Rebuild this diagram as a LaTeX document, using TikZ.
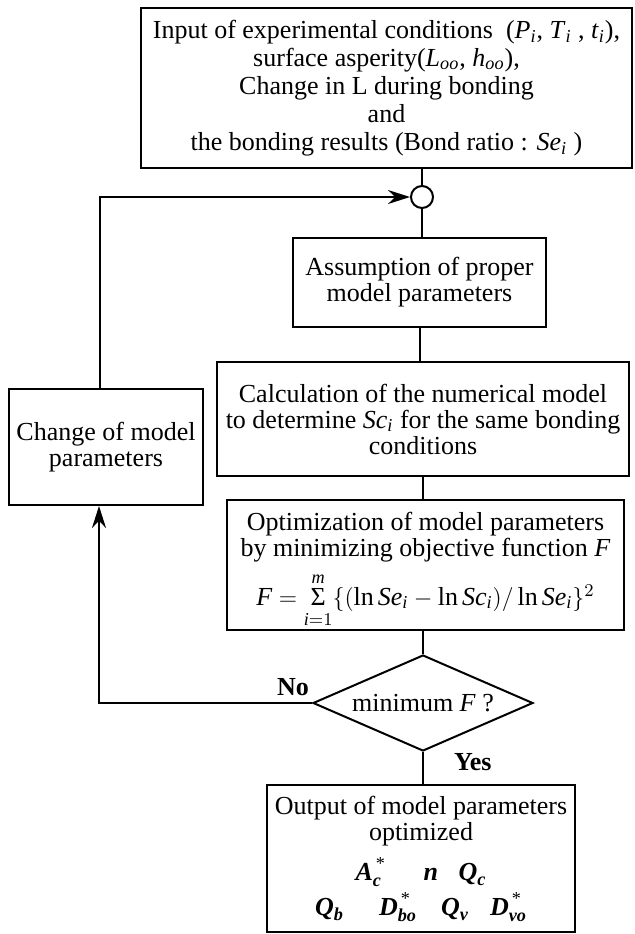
\documentclass[tikz,border=0pt]{standalone}
\usepackage{amsmath}
\usepackage{fontspec}
\setmainfont{Liberation Serif}
\usetikzlibrary{shapes.geometric,arrows.meta}
\newcommand{\ivar}[2]{\textit{#1}\textsubscript{\textit{#2}}}
\newcommand{\bit}[1]{\text{\bfseries\itshape #1}}
\begin{document}
\begin{tikzpicture}[x=0.5pt,y=-0.5pt]
\tikzset{
base/.style={draw,line width=1pt,align=center,inner sep=0pt,font=\fontsize{13}{13}\selectfont},
box/.style={base},
test/.style={base,diamond,aspect=2.27},
lbl/.style={font=\fontsize{13}{13}\selectfont\bfseries,inner sep=0pt},
every path/.style={>={Stealth[length=11pt,width=7pt]},line width=1pt}}
\useasboundingbox (0,0) rectangle (634,934);
\node[box,line width=1.3pt,minimum width=245.5pt,minimum height=80pt,font=\fontsize{13}{14}\selectfont] at (386.5,88) (input)
 {Input of experimental conditions~ (\ivar{P}{i}, \ivar{T}{i} , \ivar{t}{i}),\\
  surface asperity(\ivar{L}{oo}, \ivar{h}{oo}),\\
  Change in L during bonding\\
  and\\
  the bonding results (Bond ratio : \ivar{Se}{i} )};
\node[draw,circle,minimum size=11pt,inner sep=0pt] at (422,197) (circ) {};
\node[box,minimum width=126.5pt,minimum height=44.5pt] at (419.5,282.5) (assume)
 {Assumption of proper\\ model parameters};
\node[box,minimum width=206pt,minimum height=57pt] at (423,419) (calc)
 {Calculation of the numerical model\\ to determine \ivar{Sc}{i} for the same bonding\\ conditions};
\node[box,minimum width=97pt,minimum height=58pt] at (106,447) (change)
 {Change of model\\ parameters};
\node[box,minimum width=198.5pt,minimum height=65pt] at (425.5,565) (opt)
 {\rule{0pt}{14pt}Optimization of model parameters\\ by minimizing objective function \textit{F}\\[4pt]
  $\textit{F}= \mathop{\text{Σ}}\limits^{\textit{m}}_{\rule{0pt}{8pt}\textit{i}=1}\{(\ln \textit{Se}_{\textit{i}} - \ln \textit{Sc}_{\textit{i}})/\ln \textit{Se}_{\textit{i}}\}^{2}$};
\node[test,minimum width=110pt,minimum height=48pt] at (423,703) (dec) {minimum \textit{F} ?};
\node[box,minimum width=154pt,minimum height=73.5pt] at (421,858.5) (out)
 {Output of model parameters\\ optimized\\[5pt]
  \makebox[34pt][l]{$\bit{A}^{\,\text{*}}_{\bit{c}}$}\makebox[17.5pt][l]{$\bit{n}$}$\bit{Q}_{\bit{c}}$\\[2pt]
  \makebox[32pt][l]{$\bit{Q}_{\bit{b}}$}\makebox[31pt][l]{$\bit{D}^{\,\text{*}}_{\bit{bo}}$}\makebox[24.5pt][l]{$\bit{Q}_{\bit{v}}$}$\bit{D}^{\,\text{*}}_{\bit{vo}}$};
% main column
\draw (circ.north |- input.south) -- (circ.north);
\draw (circ.south) -- (circ.south |- assume.north);
\draw (assume.south) -- (assume.south |- calc.north);
\draw (calc.south) -- (calc.south |- opt.north);
\draw (dec.north |- opt.south) -- (dec.north);
\draw (dec.south) -- (dec.south |- out.north);
% feedback loop
\draw[->] (dec.west) -| ([xshift=-3.5pt]change.south);
\draw[->] ([xshift=-3pt]change.north) |- (circ.west);
\node[lbl,anchor=south east] at ([xshift=-1pt,yshift=3pt]dec.west) {No};
\node[lbl,anchor=west] at ([xshift=15pt,yshift=-5pt]dec.south) {Yes};
\end{tikzpicture}
\end{document}
